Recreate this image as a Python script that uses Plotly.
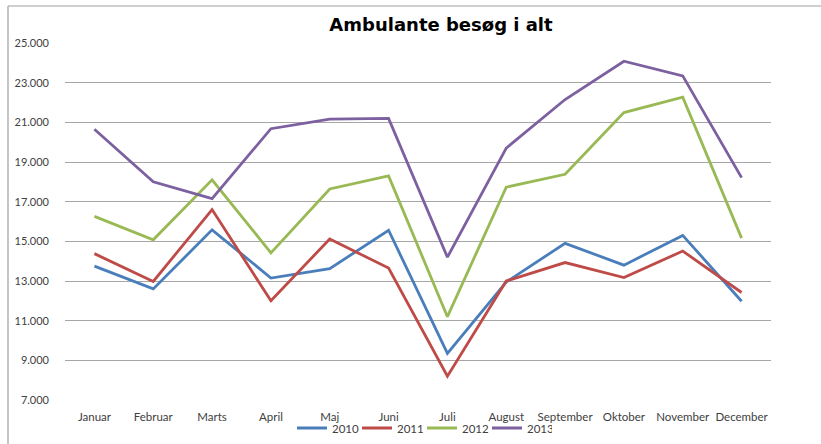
import plotly.graph_objects as go

months = ["Januar", "Februar", "Marts", "April", "Maj", "Juni", "Juli",
          "August", "September", "Oktober", "November", "December"]
y2010 = [13750, 12600, 15580, 13150, 13620, 15560, 9350, 12950, 14900, 13800, 15300, 11980]
y2011 = [14380, 12980, 16600, 12000, 15120, 13650, 8200, 13000, 13930, 13170, 14510, 12420]
y2012 = [16260, 15080, 18100, 14420, 17640, 18300, 11200, 17730, 18380, 21490, 22270, 15160]
y2013 = [20650, 18000, 17150, 20680, 21160, 21200, 14200, 19700, 22150, 24080, 23340, 18210]
series_names = ["2010", "2011", "2012", "2013"]
colors = ["#4A7EBB", "#BE4B48", "#98B954", "#7D60A0"]
ytick_vals = [7000, 9000, 11000, 13000, 15000, 17000, 19000, 21000, 23000, 25000]

fig = go.Figure()
for name, vals, c in zip(series_names, [y2010, y2011, y2012, y2013], colors):
    fig.add_trace(go.Scatter(x=months, y=vals, name=name, mode="lines",
                             line=dict(color=c, width=2.8)))

W, H = 821, 444
L, R, T, B = 65, 771, 43, 400
pw, ph = R - L, B - T

def px(x):
    return (x - L) / pw

def py(y):
    return (B - y) / ph

fig.update_layout(
    width=W, height=H,
    margin=dict(l=L, r=W - R, t=T, b=H - B, autoexpand=False),
    paper_bgcolor="white", plot_bgcolor="white",
    separators=",.",
    title=dict(text="<b>Ambulante besøg i alt</b>", x=441 / W, xanchor="center",
               y=1 - 25 / H, yanchor="middle",
               font=dict(family="DejaVu Sans", size=18, color="black")),
    xaxis=dict(type="category", range=[-0.5, 11.5], showgrid=False, showline=False,
               ticks="", ticklabelstandoff=8,
               tickfont=dict(family="Lato", size=11.5, color="#404040")),
    yaxis=dict(range=[7000, 25000], tickvals=ytick_vals, tickformat=",",
               showgrid=True, gridcolor="#A6A6A6", gridwidth=1.3, zeroline=False,
               showline=False, ticks="", ticklen=0, ticklabelstandoff=15,
               tickfont=dict(family="Lato", size=11, color="#404040")),
    legend=dict(orientation="h", x=px(292), xanchor="left", y=py(428), yanchor="middle",
                entrywidth=20, entrywidthmode="pixels", bgcolor="rgba(0,0,0,0)",
                font=dict(family="Lato", size=11.5, color="#404040"), itemwidth=30,
                tracegroupgap=0),
    showlegend=True,
    shapes=[
        dict(type="line", xref="paper", yref="paper", x0=px(8), x1=px(821),
             y0=py(6), y1=py(6), line=dict(color="#A0A0A0", width=1.2)),
        dict(type="line", xref="paper", yref="paper", x0=px(8), x1=px(8),
             y0=py(6), y1=py(444), line=dict(color="#A0A0A0", width=1.2)),
    ],
)

fig.write_html("out.html", config={"displayModeBar": False},
               post_script="document.body.style.margin='0';document.body.style.overflow='hidden';")
